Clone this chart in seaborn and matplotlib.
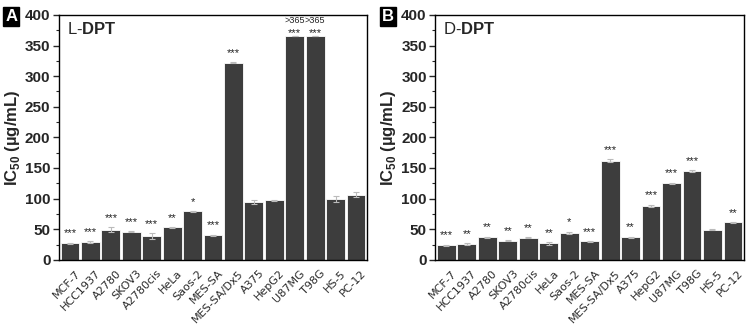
import numpy as np
import pandas as pd
import matplotlib
matplotlib.use('Agg')
import matplotlib.pyplot as plt
import matplotlib.transforms as mtransforms
import seaborn as sns
from matplotlib.ticker import MultipleLocator

cells = ['MCF-7', 'HCC1937', 'A2780', 'SKOV3', 'A2780cis', 'HeLa', 'Saos-2', 'MES-SA',
         'MES-SA/Dx5', 'A375', 'HepG2', 'U87MG', 'T98G', 'HS-5', 'PC-12']

l_ic50 = [27, 29, 49, 46, 39, 53, 79, 40, 322, 94, 97, 365, 365, 99, 106]
l_err = [1, 2, 4, 1, 5, 1, 1, 1, 1, 3, 1, 0, 0, 5, 4]
l_sig = ['***', '***', '***', '***', '***', '**', '*', '***', '***', '', '', '***', '***', '', '']

d_ic50 = [24, 26, 37, 31, 36, 27, 44, 30, 162, 37, 88, 125, 145, 49, 61]
d_err = [1, 1, 1, 1, 1, 2, 2, 1, 2, 1, 2, 1, 2, 1, 1]
d_sig = ['***', '**', '**', '**', '**', '**', '*', '***', '***', '**', '***', '***', '***', '', '**']

sns.set_theme(style='white')
plt.rcParams['font.family'] = ['Liberation Sans', 'DejaVu Sans']
plt.rcParams['mathtext.fontset'] = 'custom'
plt.rcParams['mathtext.rm'] = 'Liberation Sans'
plt.rcParams['mathtext.bf'] = 'Liberation Sans:bold'

fig = plt.figure(figsize=(7.54, 3.24), dpi=100)
ax_a = fig.add_axes([0.078, 0.198, 0.409, 0.756])
ax_b = fig.add_axes([0.577, 0.198, 0.410, 0.756])

panels = [(ax_a, l_ic50, l_err, l_sig, 'L', 'A'),
          (ax_b, d_ic50, d_err, d_sig, 'D', 'B')]

shift = mtransforms.ScaledTranslation(5 / 100, 0, fig.dpi_scale_trans)

for ax, vals, errs, sig, prefix, letter in panels:
    df = pd.DataFrame({'cell': cells, 'ic50': vals})
    sns.barplot(data=df, x='cell', y='ic50', color='#3d3d3d', saturation=1,
                edgecolor='white', linewidth=0.6, width=0.92, errorbar=None, ax=ax)
    x = np.arange(len(cells))
    ax.errorbar(x, vals, yerr=errs, fmt='none', ecolor='#bbbbbb', elinewidth=0.8,
                capsize=2.5, capthick=0.8)
    for xi, v, e, s in zip(x, vals, errs, sig):
        if s:
            # the two capped bars (>365) keep their stars close to the bar top
            off = -1 if v >= 365 else 3
            ax.annotate(s, (xi, v + e), xytext=(0, off), textcoords='offset points',
                        ha='center', va='bottom', fontsize=8, color='#222222')
    ax.set_xlim(-0.55, len(cells) - 0.45)
    ax.set_ylim(0, 400)
    ax.yaxis.set_major_locator(MultipleLocator(50))
    ax.yaxis.set_minor_locator(MultipleLocator(25))
    ax.tick_params(axis='y', which='major', left=True, direction='out', length=4,
                   width=1, labelsize=11, pad=2)
    ax.tick_params(axis='y', which='minor', left=True, direction='out', length=2, width=0.8)
    ax.tick_params(axis='x', bottom=False, pad=0)
    for lab in ax.get_yticklabels():
        lab.set_fontweight('bold')
    ax.set_xticks(x)
    ax.set_xticklabels(cells, rotation=46, ha='right', rotation_mode='anchor',
                       color='#2a2a2a', fontsize=8, family='DejaVu Sans')
    for lab in ax.get_xticklabels():
        lab.set_transform(lab.get_transform() + shift)
    ax.set_xlabel('')
    ax.set_ylabel(r'IC$_{\mathbf{50}}$ (µg/mL)', fontsize=12, fontweight='bold', labelpad=2)
    for sp in ax.spines.values():
        sp.set_visible(True)
        sp.set_color('black')
        sp.set_linewidth(1)
    ax.text(0.025, 0.975, prefix + r'-$\mathbf{DPT}$', transform=ax.transAxes,
            fontsize=12, va='top', ha='left')
    pos = ax.get_position()
    fig.text(pos.x0 - 0.063, 0.95, letter, fontsize=12, fontweight='bold', color='white',
             ha='center', va='center',
             bbox=dict(boxstyle='square,pad=0.12', fc='black', ec='black'))

for xi in (11, 12):
    ax_a.annotate('>365', (xi, 365), xytext=(0, 8), textcoords='offset points',
                  ha='center', va='bottom', fontsize=6.5, color='#222222')

fig.savefig('out.png', dpi=100)
